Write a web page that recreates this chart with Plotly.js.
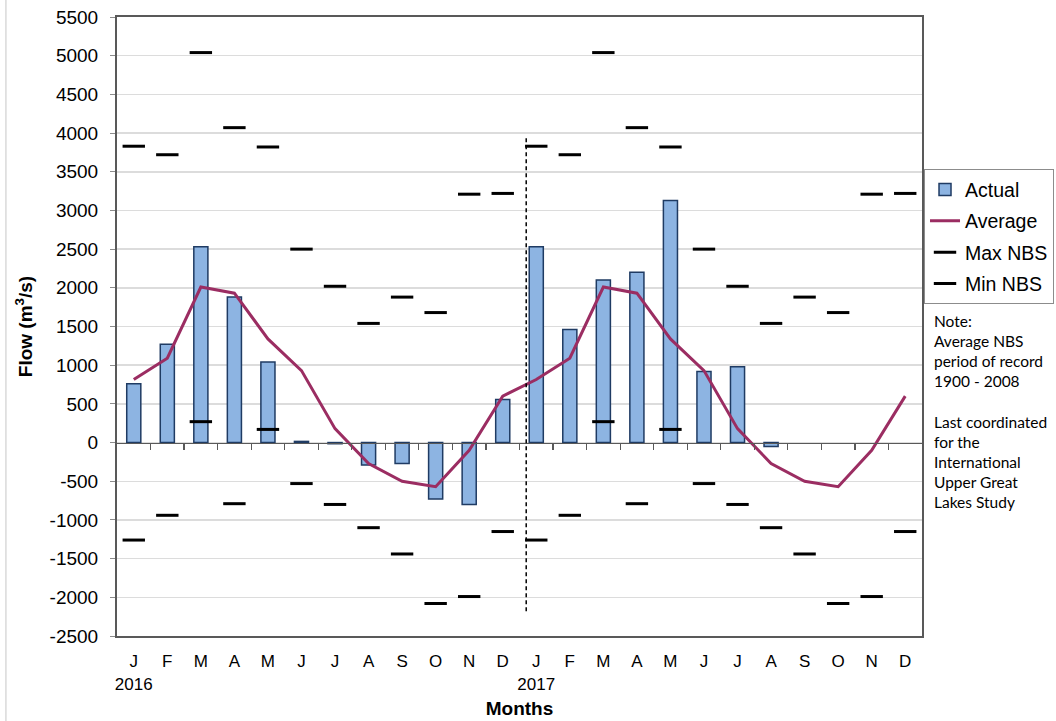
<!DOCTYPE html>
<html>
<head>
<meta charset="utf-8">
<script src="https://cdn.plot.ly/plotly-3.0.1.min.js"></script>
<style>html,body{margin:0;padding:0;background:#fff;}#chart{width:1056px;height:721px;}</style>
</head>
<body>
<div id="chart"></div>
<script>
// ---- data ----
const monthLabels = ['J','F','M','A','M','J','J','A','S','O','N','D','J','F','M','A','M','J','J','A','S','O','N','D'];
const yearLabels = {0: '2016', 12: '2017'};
const actual = [760, 1270, 2530, 1880, 1040, 15, -15, -290, -270, -730, -800, 555,
                2530, 1460, 2100, 2200, 3130, 920, 980, -50, null, null, null, null];
const averageMonthly = [815, 1090, 2010, 1930, 1340, 930, 180, -270, -500, -570, -100, 600];
const maxMonthly = [3830, 3720, 5040, 4070, 3820, 2500, 2020, 1540, 1880, 1680, 3210, 3220];
const minMonthly = [-1260, -940, 270, -790, 170, -530, -800, -1100, -1440, -2080, -1990, -1150];
const yTickVals = [-2500, -2000, -1500, -1000, -500, 0, 500, 1000, 1500, 2000, 2500, 3000, 3500, 4000, 4500, 5000, 5500];
const yearDivider = {x: 11.7, yTop: 3940, yBottom: -2180};
const noteText = 'Note:<br>Average NBS<br>period of record<br>1900 - 2008<br><br>Last coordinated<br>for the<br>International<br>Upper Great<br>Lakes Study';

// ---- build ----
const xIdx = monthLabels.map((_, i) => i);
const average = averageMonthly.concat(averageMonthly);
const maxNBS = maxMonthly.concat(maxMonthly);
const minNBS = minMonthly.concat(minMonthly);
const tickText = monthLabels.map((m, i) => yearLabels[i] ? m + '<br>' + yearLabels[i] : m);
const yTickText = yTickVals.map(v => String(v));
const boundaries = xIdx.slice(0, -1).map(i => i + 0.5);

const FONT = 'Liberation Sans, Arial, sans-serif';

const traces = [
  {type: 'bar', name: 'Actual', x: xIdx, y: actual, legendgroup: 'a',
   marker: {color: '#8DB4E2', line: {color: '#1F3B63', width: 1.5}}},
  {type: 'scatter', mode: 'lines', name: 'Average', x: xIdx, y: average, legendgroup: 'b',
   line: {color: '#9B2D62', width: 3}},
  {type: 'scatter', mode: 'markers', name: 'Max NBS', x: xIdx, y: maxNBS, legendgroup: 'c',
   marker: {symbol: 'line-ew', size: 16, line: {color: '#000', width: 3}}},
  {type: 'scatter', mode: 'markers', name: 'Min NBS', x: xIdx, y: minNBS, legendgroup: 'd',
   marker: {symbol: 'line-ew', size: 16, line: {color: '#000', width: 3}}},
  {type: 'scatter', x: [0], y: [0], xaxis: 'x2', mode: 'markers', marker: {opacity: 0},
   showlegend: false, hoverinfo: 'skip'}
];

const layout = {
  width: 1056, height: 721,
  margin: {l: 117, r: 134, t: 17, b: 85, autoexpand: false},
  paper_bgcolor: '#fff', plot_bgcolor: '#fff',
  font: {family: FONT, color: '#000', size: 17},
  bargap: 0.58,
  showlegend: true,
  legend: {x: 1.0025, y: 0.754, xanchor: 'left', yanchor: 'top',
           bgcolor: '#fff', bordercolor: '#8c8c8c', borderwidth: 1,
           font: {family: FONT, size: 19.5, color: '#000'},
           tracegroupgap: 3, traceorder: 'grouped', itemwidth: 30},
  xaxis: {
    range: [-0.5, 23.5], tickmode: 'array', tickvals: xIdx, ticktext: tickText,
    ticks: '', showgrid: false, zeroline: false, ticklabelstandoff: 9,
    showline: true, linecolor: '#595959', linewidth: 2, mirror: true,
    tickfont: {family: FONT, size: 17, color: '#000'},
    title: {text: '<b>Months</b>', font: {family: FONT, size: 19, color: '#000'}, standoff: 9}
  },
  xaxis2: {
    overlaying: 'x', anchor: 'free', position: 0.3125, side: 'bottom',
    range: [-0.5, 23.5], tickmode: 'array', tickvals: boundaries,
    ticks: 'outside', ticklen: 6, tickcolor: '#595959', tickwidth: 1.2,
    showticklabels: false, showgrid: false, zeroline: false,
    showline: true, linecolor: '#595959', linewidth: 1.5
  },
  yaxis: {
    range: [-2500, 5500], tickmode: 'array', tickvals: yTickVals, ticktext: yTickText,
    ticks: 'outside', ticklen: 5, tickcolor: '#8c8c8c', ticklabelstandoff: 8,
    showgrid: true, gridcolor: '#dcdcdc', gridwidth: 1.5, zeroline: false,
    showline: true, linecolor: '#595959', linewidth: 2, mirror: true,
    tickfont: {family: FONT, size: 19, color: '#000'},
    title: {text: '<b>Flow (m<sup>3</sup>/s)</b>', font: {family: FONT, size: 19, color: '#000'}, standoff: 12}
  },
  shapes: [
    {type: 'line', xref: 'x', yref: 'y', x0: yearDivider.x, x1: yearDivider.x,
     y0: yearDivider.yBottom, y1: yearDivider.yTop, line: {color: '#000', width: 1.5, dash: '4px,3px'}},
    {type: 'line', xref: 'paper', yref: 'paper', x0: -0.138, x1: -0.138, y0: -0.14, y1: 1.03,
     line: {color: '#d9d9d9', width: 1.5}}
  ],
  annotations: [
    {xref: 'paper', yref: 'paper', x: 1.0125, y: 0.527, xanchor: 'left', yanchor: 'top',
     align: 'left', showarrow: false, text: noteText,
     font: {family: 'Lato, Open Sans, sans-serif', size: 15.5, color: '#000'}}
  ]
};

Plotly.newPlot('chart', traces, layout, {displayModeBar: false, staticPlot: true});
</script>
</body>
</html>
